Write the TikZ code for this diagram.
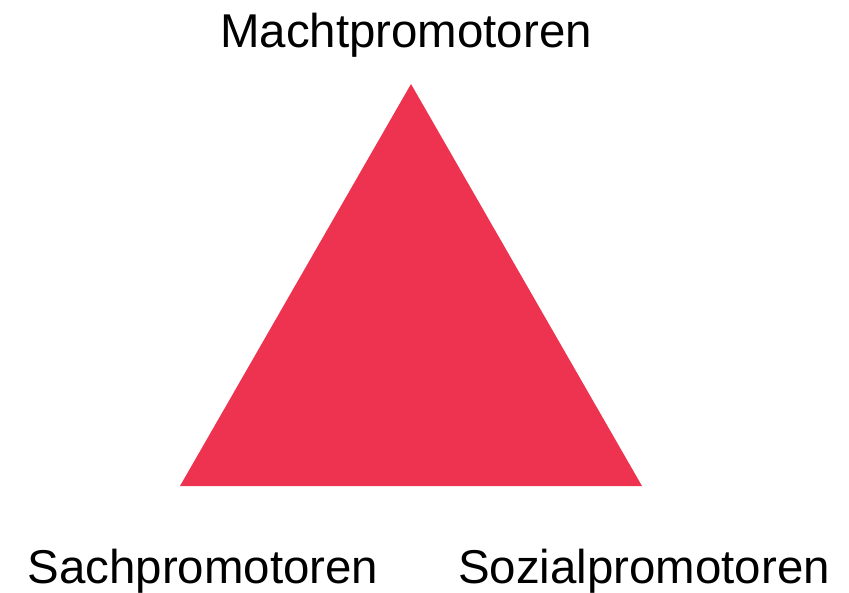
\documentclass[tikz,border=0pt]{standalone}
\usepackage{fontspec}
\setmainfont{Liberation Sans}
\usetikzlibrary{positioning}
\definecolor{Promoter}{RGB}{238, 51, 80}

\begin{document}
\begin{tikzpicture}[x=0.02cm, y=-0.02cm, label/.style={anchor=base, font=\fontsize{27}{32}\selectfont}]
            \useasboundingbox (0,0) rectangle (849,592);
            % Triangle
            \coordinate (top) at (411,84);
            \coordinate (left) at (180,486);
            \coordinate (right) at (642,486);
            \fill[Promoter] (top) -- (left) -- (right) -- cycle;
            
            % Labels
            \node[label] (macht) at (406,47) {Machtpromotoren};
            \node[label] (sach) at (203,583) {Sachpromotoren};
            \node[label] (sozial) at (644,583) {Sozialpromotoren};
        \end{tikzpicture}
\end{document}
